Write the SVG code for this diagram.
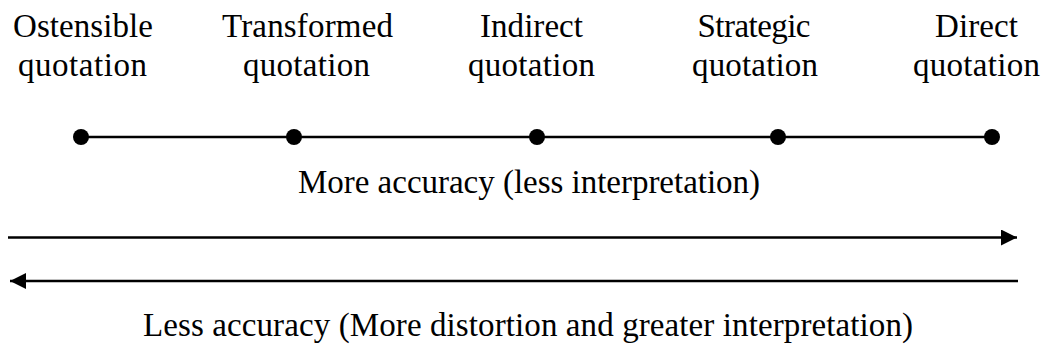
<svg xmlns="http://www.w3.org/2000/svg" width="1045" height="358" viewBox="0 0 1045 358">
<style>
.t{font-family:"Liberation Serif","Times New Roman",serif;font-size:33px;fill:#000;text-anchor:middle}
.ln{stroke:#000;stroke-width:2.5;fill:none}
.dot{fill:#000}
</style>
<defs>
<marker id="ah" markerWidth="17" markerHeight="17" refX="16" refY="8" orient="auto" markerUnits="userSpaceOnUse">
<path d="M0,0 L16,8 L0,16 Z" fill="#000"/>
</marker>
</defs>
<g id="connectors">
<line class="ln" x1="81" y1="137" x2="992" y2="137"/>
<line class="ln" x1="8" y1="237.5" x2="1017" y2="237.5" marker-end="url(#ah)"/>
<line class="ln" x1="1018" y1="281" x2="10" y2="281" marker-end="url(#ah)"/>
</g>
<g id="node-ostensible">
<circle class="dot" cx="81" cy="137" r="8"/>
<text class="t" x="83" y="37" textLength="140" lengthAdjust="spacing">Ostensible</text>
<text class="t" x="82.5" y="76" textLength="129" lengthAdjust="spacing">quotation</text>
</g>
<g id="node-transformed">
<circle class="dot" cx="294" cy="137" r="8"/>
<text class="t" x="307.5" y="37" textLength="171" lengthAdjust="spacing">Transformed</text>
<text class="t" x="306.5" y="76" textLength="127" lengthAdjust="spacing">quotation</text>
</g>
<g id="node-indirect">
<circle class="dot" cx="537" cy="137" r="8"/>
<text class="t" x="531.5" y="37" textLength="103" lengthAdjust="spacing">Indirect</text>
<text class="t" x="531.5" y="76" textLength="127" lengthAdjust="spacing">quotation</text>
</g>
<g id="node-strategic">
<circle class="dot" cx="778" cy="137" r="8"/>
<text class="t" x="754" y="37" textLength="113" lengthAdjust="spacing">Strategic</text>
<text class="t" x="755" y="76" textLength="126" lengthAdjust="spacing">quotation</text>
</g>
<g id="node-direct">
<circle class="dot" cx="992" cy="137" r="8"/>
<text class="t" x="976.5" y="37" textLength="83" lengthAdjust="spacing">Direct</text>
<text class="t" x="976.5" y="76" textLength="127" lengthAdjust="spacing">quotation</text>
</g>
<g id="label-more">
<text class="t" x="529" y="193" textLength="462" lengthAdjust="spacing">More accuracy (less interpretation)</text>
</g>
<g id="label-less">
<text class="t" x="528" y="336" textLength="770" lengthAdjust="spacing">Less accuracy (More distortion and greater interpretation)</text>
</g>
</svg>
